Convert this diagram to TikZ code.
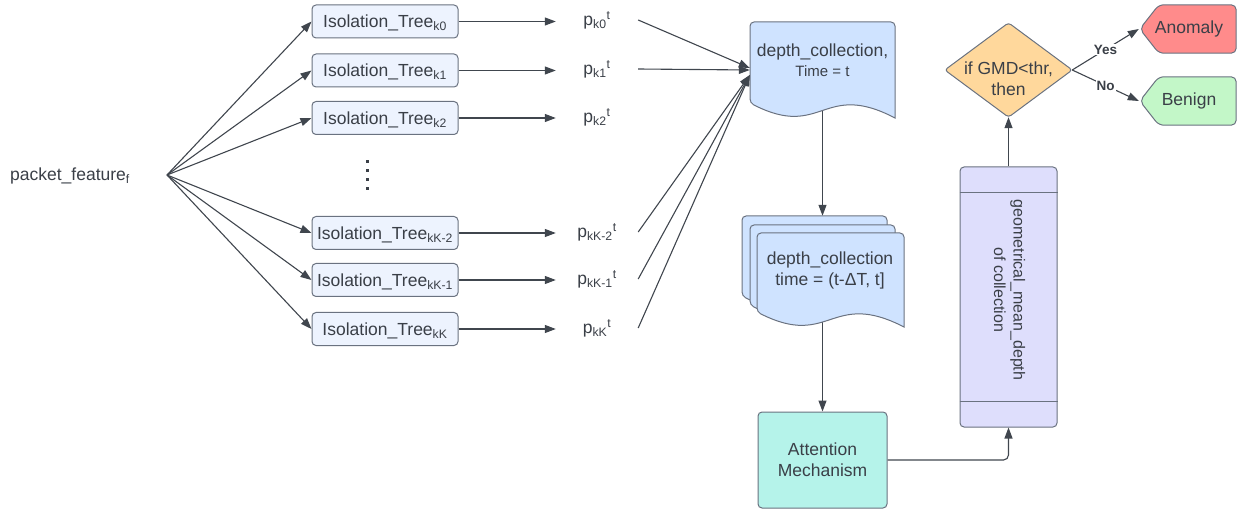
\documentclass[tikz,border=0pt]{standalone}
\usepackage{fontspec}
\setmainfont{Liberation Sans}
\usetikzlibrary{arrows.meta,calc}
\pgfdeclarelayer{bg}
\pgfsetlayers{bg,main}
\definecolor{txt}{HTML}{3A3F47}
\definecolor{ln}{HTML}{40464E}
\definecolor{bord}{HTML}{6A7280}
\definecolor{treefill}{HTML}{EDF3FE}
\definecolor{docfill}{HTML}{CFE3FF}
\definecolor{attfill}{HTML}{B5F3EA}
\definecolor{gmfill}{HTML}{DEDEFC}
\definecolor{dmfill}{HTML}{FFD89C}
\definecolor{anfill}{HTML}{FF8B8B}
\definecolor{bnfill}{HTML}{C3F7C8}
\newcommand\fs{\fontsize{17.5}{21}\selectfont}
\newcommand\docpath[5]{%
  \filldraw[draw=bord, line width=1pt, fill=#5] (#3,#4) {[rounded corners=4pt] -- (#3,#2) -- (#1,#2) -- (#1,#4-15)} .. controls ({(#1+#3)/2},#4+22) and ({(#1+#3)/2},#4-38) .. (#3,#4) -- cycle;}
\tikzset{
  lbl/.style={font=\fs, text=txt, inner sep=0pt},
  tree/.style={lbl, draw=bord, line width=1pt, fill=treefill, rounded corners=4pt, minimum width=146pt, minimum height=33pt, text height=12.5pt, text depth=0pt},
  plbl/.style={lbl, minimum width=82pt},
  ghost/.style={inner sep=0pt, draw=none},
  arr/.style={draw=ln, line width=1.1pt, -{Triangle[length=11pt,width=8pt]}},
  yn/.style={font=\fontsize{13.5}{16}\selectfont\bfseries, text=txt, fill=white, inner sep=1pt},
}
\begin{document}
\begin{tikzpicture}[x=1pt,y=-1pt]
\useasboundingbox (0,0) rectangle (1241,510);
% input
\node[lbl] (pk) at (70,176) {packet\_feature\textsubscript{f}};
\coordinate (fan) at (167,175);
% trees
\node[tree] (t0) at (385,21.5) {Isolation\_Tree\textsubscript{k0}};
\node[tree] (t1) at (385,70.5) {Isolation\_Tree\textsubscript{k1}};
\node[tree] (t2) at (385,118) {Isolation\_Tree\textsubscript{k2}};
\node[tree] (t3) at (385,233) {Isolation\_Tree\textsubscript{kK-2}};
\node[tree] (t4) at (385,280) {Isolation\_Tree\textsubscript{kK-1}};
\node[tree] (t5) at (385,329) {Isolation\_Tree\textsubscript{kK}};
% vertical ellipsis
\foreach \yy in {160.5,169.5,178.5,187.5} \fill[txt] (366.2,\yy) rectangle +(3,3);
% p labels
\node[plbl] (p0) at (597,20) {p\textsubscript{k0}\textsuperscript{t}};
\node[plbl] (p1) at (597,69) {p\textsubscript{k1}\textsuperscript{t}};
\node[plbl] (p2) at (597,117) {p\textsubscript{k2}\textsuperscript{t}};
\node[plbl] (p3) at (597,232) {p\textsubscript{kK-2}\textsuperscript{t}};
\node[plbl] (p4) at (597,279) {p\textsubscript{kK-1}\textsuperscript{t}};
\node[plbl] (p5) at (597,328) {p\textsubscript{kK}\textsuperscript{t}};
% depth collection at t
\docpath{750}{22}{895}{118}{docfill}
\node[ghost, minimum width=145pt, minimum height=96pt] (dc) at (822.5,70) {};
\node[lbl, align=center] (dct) at (822.5,60) {depth\_collection,\\[-1pt]{\fontsize{15}{18}\selectfont Time = t}};
% stacked collections
\docpath{742}{216}{887}{311}{docfill}
\docpath{750}{225}{895}{320}{docfill}
\docpath{757}{233}{904}{327}{docfill}
\node[ghost, minimum width=145pt, minimum height=95pt] (stb) at (814.5,263.5) {};
\node[ghost, minimum width=147pt, minimum height=94pt] (stf) at (830.5,280) {};
\node[lbl, align=center] (stt) at (830,270.5) {depth\_collection\\time = (t-ΔT, t]};
% attention
\node[lbl, draw=bord, line width=1pt, fill=attfill, rounded corners=4pt, minimum width=129pt, minimum height=96pt, align=center] (att) at (822.5,460) {Attention\\Mechanism};
% geometrical mean
\node[ghost, draw=bord, line width=1pt, fill=gmfill, rounded corners=4pt, minimum width=97pt, minimum height=260pt] (gm) at (1008.5,297) {};
\draw[draw=bord, line width=1pt] ([yshift=-26pt]gm.north west) -- ([yshift=-26pt]gm.north east);
\draw[draw=bord, line width=1pt] ([yshift=26pt]gm.south west) -- ([yshift=26pt]gm.south east);
\node[lbl, font=\fontsize{16}{19.5}\selectfont, rotate=-90, align=center] (gmt) at (1009.5,290) {geometrical\_mean\_depth\\of collection};
% decision
\node[ghost, minimum width=127pt, minimum height=94pt] (dm) at (1008.5,70) {};
\filldraw[draw=bord, line width=1pt, fill=dmfill, rounded corners=3pt] (dm.west) -- (dm.north) -- (dm.east) -- (dm.south) -- cycle;
\node[lbl, align=center] (dmt) at (1008.5,79) {if GMD<thr,\\then};
% outcomes
\node[ghost, minimum width=97pt, minimum height=48pt] (an) at (1187.5,29) {};
\filldraw[draw=bord, line width=1pt, fill=anfill, rounded corners=5pt] ([xshift=1pt]an.west) -- ([xshift=20pt]an.north west) -- (an.north east) -- (an.south east) -- ([xshift=20pt]an.south west) -- cycle;
\node[lbl] (ant) at (1189,29) {Anomaly};
\node[ghost, minimum width=97pt, minimum height=48pt] (bn) at (1187.5,101) {};
\filldraw[draw=bord, line width=1pt, fill=bnfill, rounded corners=5pt] ([xshift=1pt]bn.west) -- ([xshift=20pt]bn.north west) -- (bn.north east) -- (bn.south east) -- ([xshift=20pt]bn.south west) -- cycle;
\node[lbl] (bnt) at (1189,101) {Benign};
% connectors
\foreach \t in {t0,t1,t2,t3,t4,t5} \draw[arr] (fan) -- (\t.west);
\draw[arr] (t0.east) -- (t0.east -| p0.west);
\draw[arr] (t1.east) -- (t1.east -| p1.west);
\draw[arr] (t2.east) -- (t2.east -| p2.west);
\draw[arr] (t3.east) -- (t3.east -| p3.west);
\draw[arr] (t4.east) -- (t4.east -| p4.west);
\draw[arr] (t5.east) -- (t5.east -| p5.west);
\draw[arr] (p0.east) -- ([yshift=2pt]dc.west);
\draw[arr] (p1.east) -- (dc.west);
\draw[arr] (p3.east) -- ([yshift=-5pt]dc.west);
\draw[arr] (p4.east) -- ([yshift=-5pt]dc.west);
\draw[arr] (p5.east) -- ([yshift=-5pt]dc.west);
\begin{pgfonlayer}{bg}
\draw[arr] (dc.center) -- (dc.center |- stb.north);
\draw[arr] (stf.center -| att.north) -- (att.north);
\end{pgfonlayer}
\draw[arr, rounded corners=5pt] (att.east) -| (gm.south);
\draw[arr] (gm.north) -- (dm.south);
\draw[arr] (dm.east) -- node[yn] {Yes} (an.west);
\draw[arr] (dm.east) -- node[yn] {No} (bn.west);
\end{tikzpicture}
\end{document}
